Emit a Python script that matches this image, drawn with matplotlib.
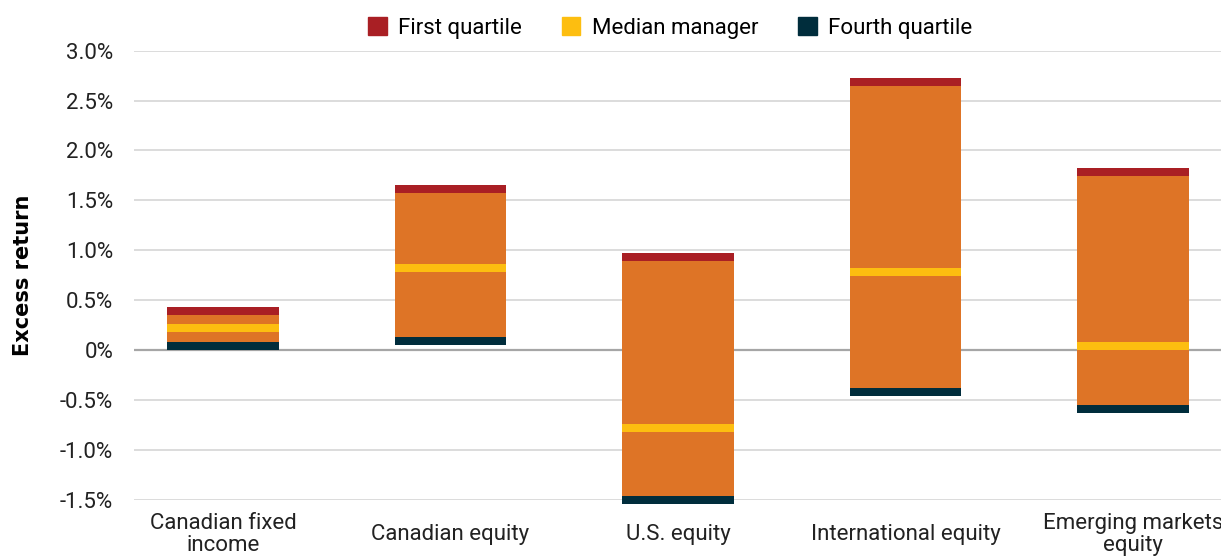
import numpy as np
import matplotlib
matplotlib.use("Agg")
import matplotlib.pyplot as plt
from matplotlib.patches import Patch

# data (excess return, %)
categories = ["Canadian fixed\nincome", "Canadian equity", "U.S. equity",
              "International equity", "Emerging markets\nequity"]
first_quartile = [0.39, 1.61, 0.93, 2.685, 1.78]
median_manager = [0.22, 0.82, -0.78, 0.78, 0.04]
fourth_quartile = [0.04, 0.09, -1.50, -0.42, -0.59]

c_red = "#A91F24"
c_orange = "#DE7426"
c_yellow = "#FDBE10"
c_teal = "#002D3C"
band = 0.08
width = 0.49

plt.rcParams['font.family'] = ['Roboto', 'DejaVu Sans']

fig = plt.figure(figsize=(12.21, 5.59), dpi=100)
ax = fig.add_axes([134 / 1221, 59.3 / 559, 1087 / 1221, 449 / 559])

x = np.arange(len(categories))
q1 = np.array(first_quartile)
med = np.array(median_manager)
q4 = np.array(fourth_quartile)

lo = q4 - band / 2
hi = q1 + band / 2
ax.bar(x, hi - lo, bottom=lo, width=width, color=c_orange, zorder=3, clip_on=False)
ax.bar(x, band, bottom=q1 - band / 2, width=width, color=c_red, zorder=4, clip_on=False)
ax.bar(x, band, bottom=med - band / 2, width=width, color=c_yellow, zorder=4, clip_on=False)
ax.bar(x, band, bottom=q4 - band / 2, width=width, color=c_teal, zorder=4, clip_on=False)

ax.set_xlim((134 - 223) / 227.5, (1221 - 223) / 227.5)
ax.set_ylim(-1.5, 3.0)
yt = np.arange(-1.5, 3.01, 0.5)
ax.set_yticks(yt)
ax.set_yticklabels(["0%" if abs(v) < 1e-9 else f"{v:.1f}%" for v in yt])
ax.yaxis.grid(True, color="#d9d9d9", linewidth=1.3, zorder=0)
ax.axhline(0, color="#a6a6a6", linewidth=1.6, zorder=2)
ax.set_xticks(x)
ax.set_xticklabels(categories, linespacing=1.1, va="center")
ax.tick_params(axis="both", length=0, labelsize=16, colors="#222222")
ax.tick_params(axis="y", pad=15)
ax.tick_params(axis="x", pad=25)
for s in ax.spines.values():
    s.set_visible(False)

ax.set_ylabel("Excess return", fontsize=15, fontweight="bold",
              family=["DejaVu Sans"])
ax.yaxis.set_label_coords(-0.093, 0.5)

handles = [Patch(color=c_red, label="First quartile"),
           Patch(color=c_yellow, label="Median manager"),
           Patch(color=c_teal, label="Fourth quartile")]
fig.legend(handles=handles, loc="center", bbox_to_anchor=(670 / 1221, 1 - 28 / 559),
           ncol=3, frameon=False, fontsize=16, handlelength=0.85, handleheight=0.85,
           handletextpad=0.5, columnspacing=1.8)

fig.savefig("out.png", dpi=100)
